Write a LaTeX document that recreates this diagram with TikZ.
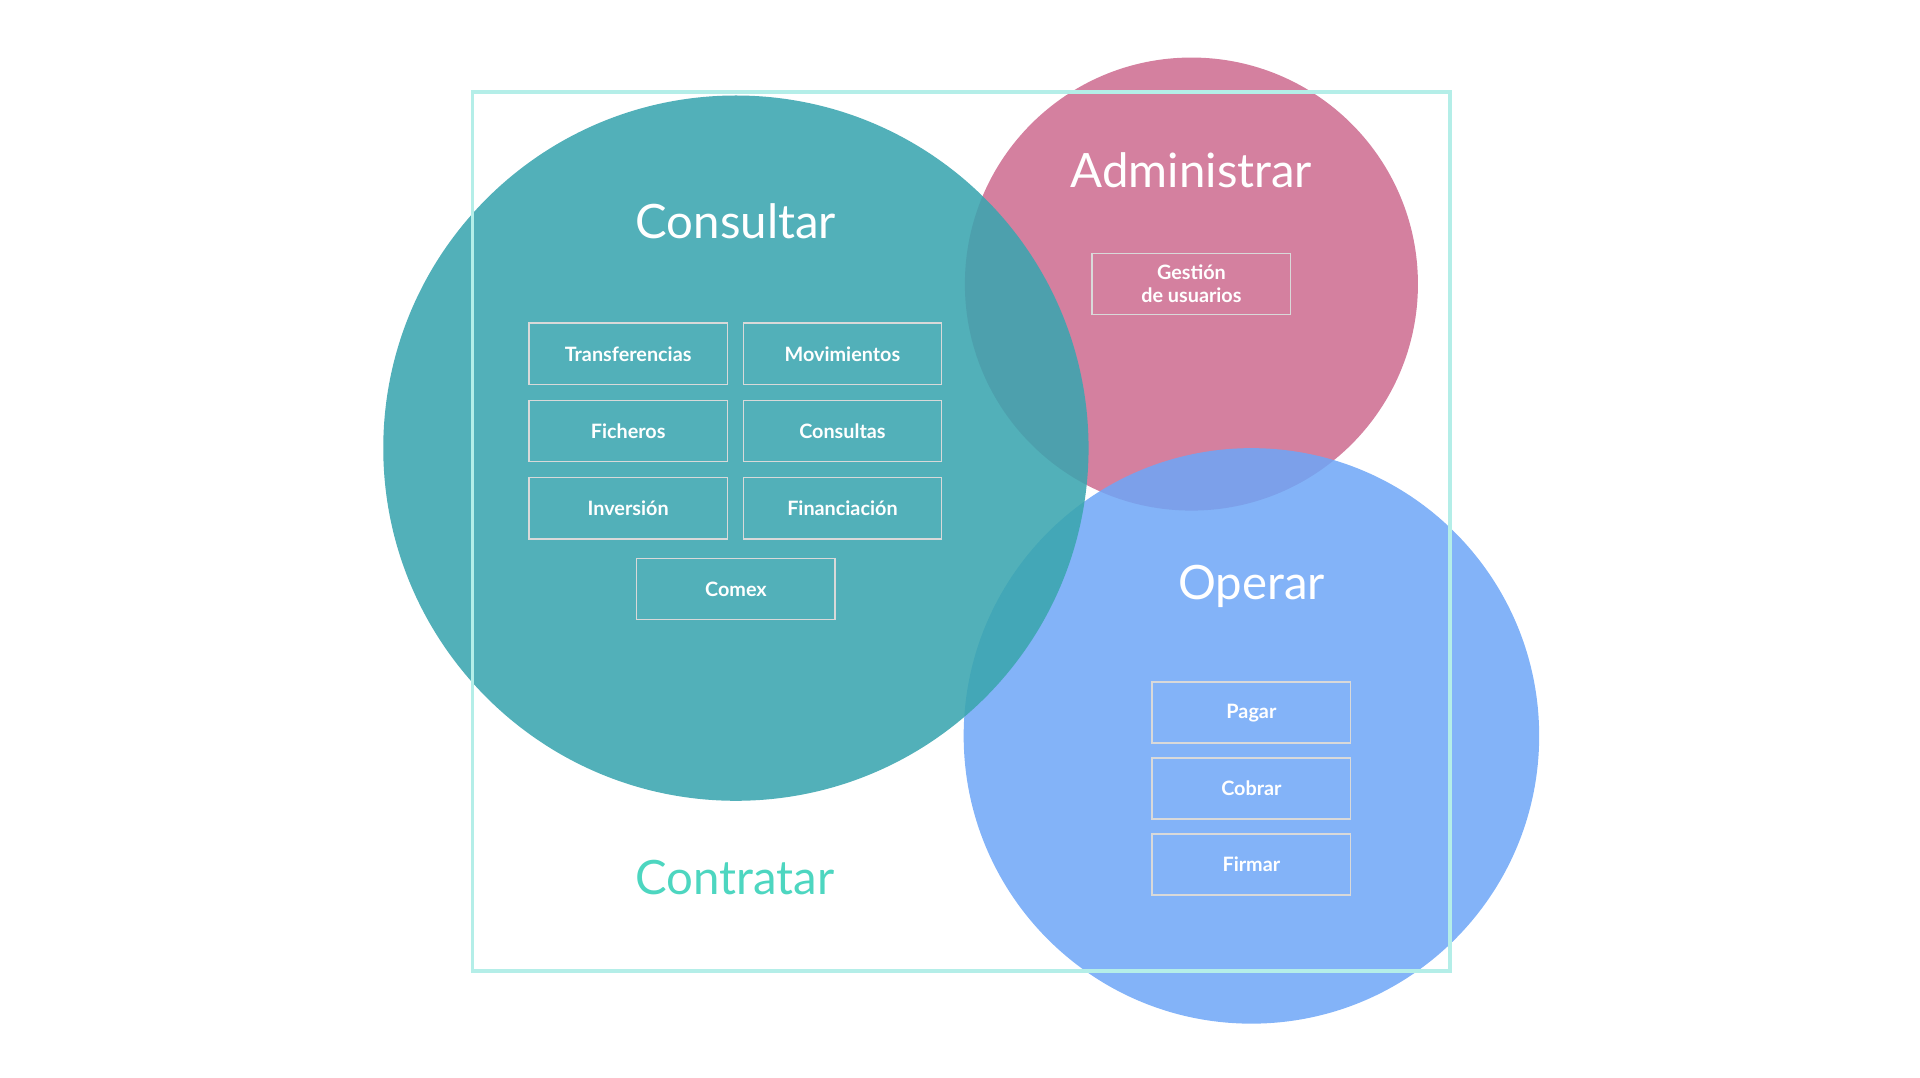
\documentclass[tikz,border=0pt]{standalone}
\usepackage{fontspec}
\setmainfont{Lato}
\definecolor{frame}{HTML}{B4EEE8}
\definecolor{teal}{HTML}{3AA5AF}
\definecolor{pinkc}{HTML}{CC6A8E}
\definecolor{bluec}{HTML}{6DA6F7}
\definecolor{contr}{HTML}{4DD6C0}
\begin{document}
\begin{tikzpicture}[x=0.01cm,y=-0.01cm,
  item/.style={draw=white!85!black,line width=0.35pt,minimum width=162*0.01cm,minimum height=50*0.01cm,text=white,font=\fontsize{4.6}{5.4}\selectfont\bfseries,align=center,inner sep=0pt},
  title/.style={text=white,font=\fontsize{11}{13}\selectfont}]
\useasboundingbox (0,0) rectangle (1568,880);
\fill[pinkc,opacity=0.85] (973,232) circle (185);
\fill[bluec,opacity=0.85] (1022,601) circle (235);
\fill[teal,opacity=0.88] (601,366) circle (288);
\node[draw=frame,line width=0.85pt,minimum width=798*0.01cm,minimum height=718*0.01cm,inner sep=0pt] (frame) at (785,434) {};
\node[title] (cons) at (601,181) {Consultar};
\node[title] (adm) at (973,139) {Administrar};
\node[title] (op) at (1022,479) {Operar};
\node[title,text=contr] (contr) at (600,717) {Contratar};
\node[item] (t1) at (513,289) {Transferencias};
\node[item] (t2) at (688,289) {Movimientos};
\node[item] (t3) at (513,352) {Ficheros};
\node[item] (t4) at (688,352) {Consultas};
\node[item] (t5) at (513,415) {Inversión};
\node[item] (t6) at (688,415) {Financiación};
\node[item] (t7) at (601,481) {Comex};
\node[item] (g) at (973,232) {Gestión\\de usuarios};
\node[item] (p1) at (1022,582) {Pagar};
\node[item] (p2) at (1022,644) {Cobrar};
\node[item] (p3) at (1022,706) {Firmar};
\end{tikzpicture}
\end{document}
